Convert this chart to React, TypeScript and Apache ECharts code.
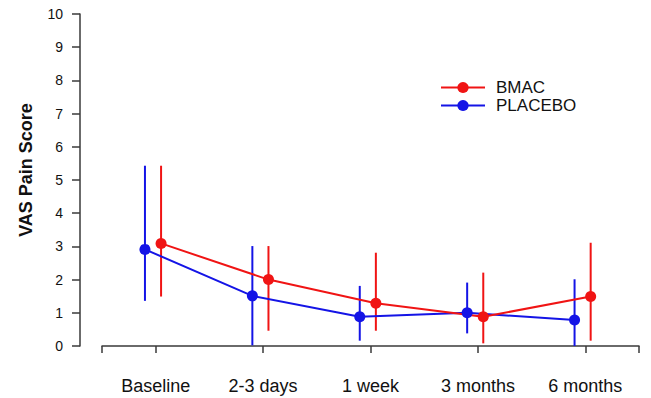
import React, { useEffect, useRef } from "react";
import * as echarts from "echarts";

const categories = ["Baseline", "2-3 days", "1 week", "3 months", "6 months"];
const yTicks = [0, 1, 2, 3, 4, 5, 6, 7, 8, 9, 10];

const bmacMean = [3.09, 2.0, 1.29, 0.88, 1.49];
const bmacLow = [1.49, 0.46, 0.46, 0.08, 0.16];
const bmacHigh = [5.43, 3.01, 2.81, 2.21, 3.11];

const placeboMean = [2.91, 1.51, 0.88, 1.0, 0.78];
const placeboLow = [1.36, 0.02, 0.16, 0.38, 0.0];
const placeboHigh = [5.43, 3.01, 1.81, 1.91, 2.01];

const RED = "#f01414";
const BLUE = "#1414e6";
const FONT = "Liberation Sans, Arial, sans-serif";

export default function App() {
  const ref = useRef<HTMLDivElement>(null);
  useEffect(() => {
    if (!ref.current) return;
    const chart = echarts.init(ref.current, undefined, { renderer: "svg" });
    const bmacOffset = 0.05;
    const placeboOffset = -0.1;
    const pts = (m: number[], off: number) => m.map((v, i) => [i + 1 + off, v]);
    const bars = (lo: number[], hi: number[], off: number) =>
      lo.map((v, i) => [i + 1 + off, v, hi[i]]);
    const errSeries = (name: string, data: number[][], color: string) => ({
      type: "custom",
      name,
      data,
      encode: { x: 0, y: [1, 2] },
      renderItem: (params: any, api: any) => {
        const x = api.value(0);
        const a = api.coord([x, api.value(1)]);
        const b = api.coord([x, api.value(2)]);
        return {
          type: "line",
          shape: { x1: a[0], y1: a[1], x2: b[0], y2: b[1] },
          style: { stroke: color, lineWidth: 2 },
        };
      },
      silent: true,
    });
    chart.setOption({
      animation: false,
      backgroundColor: "#fff",
      textStyle: { fontFamily: FONT },
      grid: { left: 102, right: 12, top: 14, bottom: 52 },
      legend: {
        orient: "vertical",
        left: 440,
        top: 79,
        padding: 0,
        itemWidth: 44,
        itemHeight: 14,
        itemGap: 1,
        data: ["BMAC", "PLACEBO"],
        textStyle: { fontSize: 17, color: "#111", fontFamily: FONT, lineHeight: 17, padding: [0, 0, 0, 6] },
      },
      xAxis: {
        type: "value",
        min: 0.5,
        max: 5.5,
        offset: 15,
        splitLine: { show: false },
        axisLine: { show: true, lineStyle: { color: "#3a3a3a", width: 1.5 } },
        axisTick: {
          show: true,
          length: 7,
          lineStyle: { color: "#3a3a3a", width: 1.5 },
          customValues: [0.5, 1, 2, 3, 4, 5, 5.5],
        },
        axisLabel: {
          customValues: [1, 2, 3, 4, 5],
          formatter: (v: number) => categories[Math.round(v) - 1] ?? "",
          fontSize: 18,
          color: "#111",
          margin: 16,
          fontFamily: FONT,
        },
      },
      yAxis: {
        type: "value",
        min: yTicks[0],
        max: yTicks[yTicks.length - 1],
        interval: 1,
        offset: 22,
        splitLine: { show: false },
        axisLine: { show: true, lineStyle: { color: "#3a3a3a", width: 1.5 } },
        axisTick: { show: true, length: 8, lineStyle: { color: "#3a3a3a", width: 1.5 } },
        axisLabel: { fontSize: 14, color: "#111", margin: 17, fontFamily: FONT },
      },
      graphic: [
        {
          type: "text",
          x: 26,
          y: 170,
          rotation: Math.PI / 2,
          style: {
            text: "VAS Pain Score",
            font: `bold 18px ${FONT}`,
            fill: "#111",
            align: "center",
            verticalAlign: "middle",
          },
        },
      ],
      series: [
        errSeries("PLACEBO-err", bars(placeboLow, placeboHigh, placeboOffset), BLUE),
        {
          type: "line",
          name: "PLACEBO",
          data: pts(placeboMean, placeboOffset),
          symbol: "circle",
          symbolSize: 11,
          lineStyle: { color: BLUE, width: 2 },
          itemStyle: { color: BLUE },
        },
        errSeries("BMAC-err", bars(bmacLow, bmacHigh, bmacOffset), RED),
        {
          type: "line",
          name: "BMAC",
          data: pts(bmacMean, bmacOffset),
          symbol: "circle",
          symbolSize: 11,
          lineStyle: { color: RED, width: 2 },
          itemStyle: { color: RED },
        },
      ],
    });
    return () => chart.dispose();
  }, []);
  return (
    <div
      ref={ref}
      style={{ width: 651, height: 398, position: "fixed", top: 0, left: 0 }}
    />
  );
}
